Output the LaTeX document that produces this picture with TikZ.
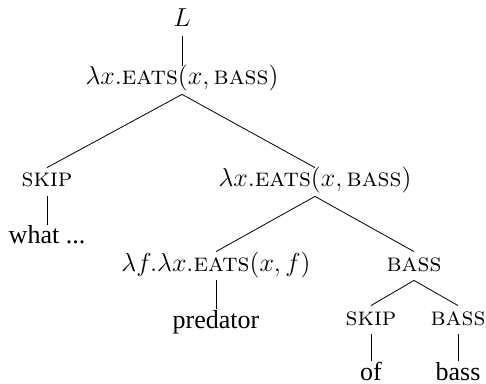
\RequirePackage{fix-cm}
\documentclass[tikz,border=0pt]{standalone}
\usepackage{fontspec}
\newfontfamily\wordfont{Liberation Serif}
\newcommand{\sck}[1]{\textsc{#1}}
\begin{document}
\begin{tikzpicture}[x=0.5pt,y=-0.5pt,
  every node/.style={inner sep=2pt,text height=0.75em,text depth=0.25em,anchor=base,font=\fontsize{13}{16}\selectfont},
  edge/.style={draw=black,line width=0.4pt}]
\useasboundingbox (0,0) rectangle (486,384);
\node (L) at (182,27) {$L$};
\node (root) at (182,85) {$\lambda x.\sck{eats}(x, \sck{bass})$};
\node (skip1) at (47,187) {\sck{skip}};
\node (what) at (47,244) {\wordfont what ...};
\node (right) at (315,187) {$\lambda x.\sck{eats}(x, \sck{bass})$};
\node (lf) at (216,271) {$\lambda f.\lambda x.\sck{eats}(x, f)$};
\node (pred) at (216,328) {\wordfont predator};
\node (bass1) at (414,271) {\sck{bass}};
\node (skip2) at (371,325) {\sck{skip}};
\node (bass2) at (458,325) {\sck{bass}};
\node (of) at (371,380) {\wordfont of};
\node (bass3) at (458,380) {\wordfont bass};
\draw[edge] (L.south) -- (root.north);
\draw[edge] (root.south) -- (skip1.north);
\draw[edge] (root.south) -- (right.north);
\draw[edge] (skip1.south) -- (what.north);
\draw[edge] (right.south) -- (lf.north);
\draw[edge] (right.south) -- (bass1.north);
\draw[edge] (lf.south) -- (pred.north);
\draw[edge] (bass1.south) -- (skip2.north);
\draw[edge] (bass1.south) -- (bass2.north);
\draw[edge] (skip2.south) -- (of.north);
\draw[edge] (bass2.south) -- (bass3.north);
\end{tikzpicture}
\end{document}
